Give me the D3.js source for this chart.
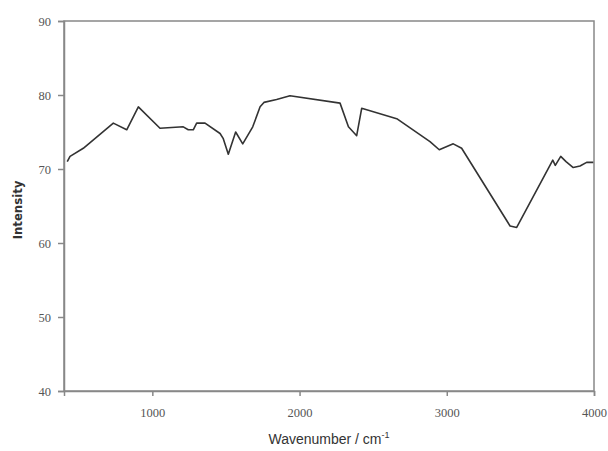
<!DOCTYPE html>
<html><head><meta charset="utf-8">
<script src="https://cdn.jsdelivr.net/npm/d3@7"></script>
<style>body{margin:0;background:#fff}</style>
</head><body>
<svg id="c" width="608" height="451"></svg>
<script>
const wavenumber = [422,441,531,735,826,905,1052,1210,1244,1278,1301,1358,1460,1482,1516,1566,1614,1682,1732,1758,1844,1935,2275,2332,2388,2422,2660,2886,2949,3044,3101,3430,3475,3720,3737,3774,3810,3859,3905,3950,3995];
const intensity  = [71.0,71.7,72.8,76.2,75.3,78.4,75.5,75.7,75.3,75.3,76.2,76.2,74.8,74.1,72.0,75.0,73.4,75.7,78.4,79.0,79.4,79.9,78.9,75.7,74.5,78.2,76.8,73.7,72.6,73.4,72.8,62.3,62.1,71.2,70.5,71.7,71.0,70.2,70.4,70.9,70.9];
const xTicks = [1000,2000,3000,4000];
const yTicks = [40,50,60,70,80,90];

const svg = d3.select("#c");
const L=64, R=594, T=21, B=391;
const x = d3.scaleLinear().domain([400,4000]).range([L,R]);
const y = d3.scaleLinear().domain([40,90]).range([B,T]);
const axisColor = "#888";

// frame
svg.append("rect").attr("x",L).attr("y",T).attr("width",R-L).attr("height",B-T)
  .attr("fill","none").attr("stroke",axisColor).attr("stroke-width",1.5);

const gx = svg.append("g").attr("transform",`translate(0,${B})`)
  .call(d3.axisBottom(x).tickValues(xTicks).tickSize(5).tickPadding(12).tickFormat(d3.format("d")));
const gy = svg.append("g").attr("transform",`translate(${L},0)`)
  .call(d3.axisLeft(y).tickValues(yTicks).tickSize(6).tickPadding(7).tickFormat(d3.format("d")));
[gx,gy].forEach(g=>{
  g.select(".domain").attr("stroke",axisColor).attr("stroke-width",1.5);
  g.selectAll(".tick line").attr("stroke",axisColor).attr("stroke-width",1.5);
  g.selectAll(".tick text").attr("fill","#555").attr("font-family","'Liberation Serif','Times New Roman',serif").attr("font-size","12.5px");
});

svg.append("path").datum(wavenumber.map((w,i)=>[w,intensity[i]]))
  .attr("fill","none").attr("stroke","#333").attr("stroke-width",1.6).attr("stroke-linejoin","round")
  .attr("d",d3.line().x(d=>x(d[0])).y(d=>y(d[1])));

const xl = svg.append("text").attr("x",(L+R)/2).attr("y",444).attr("text-anchor","middle")
  .attr("font-family","'Liberation Sans',Arial,sans-serif").attr("font-size","14px").attr("fill","#333");
xl.append("tspan").text("Wavenumber / cm");
xl.append("tspan").attr("dy",-6).attr("font-size","9px").text("-1");

svg.append("text").attr("transform",`translate(22,${(T+B)/2+4}) rotate(-90)`).attr("text-anchor","middle")
  .attr("font-family","'Liberation Sans Narrow','Arial Narrow','DejaVu Sans Condensed',sans-serif")
  .attr("font-weight","bold").attr("font-size","13px").attr("fill","#333").text("Intensity");
</script>
</body></html>
